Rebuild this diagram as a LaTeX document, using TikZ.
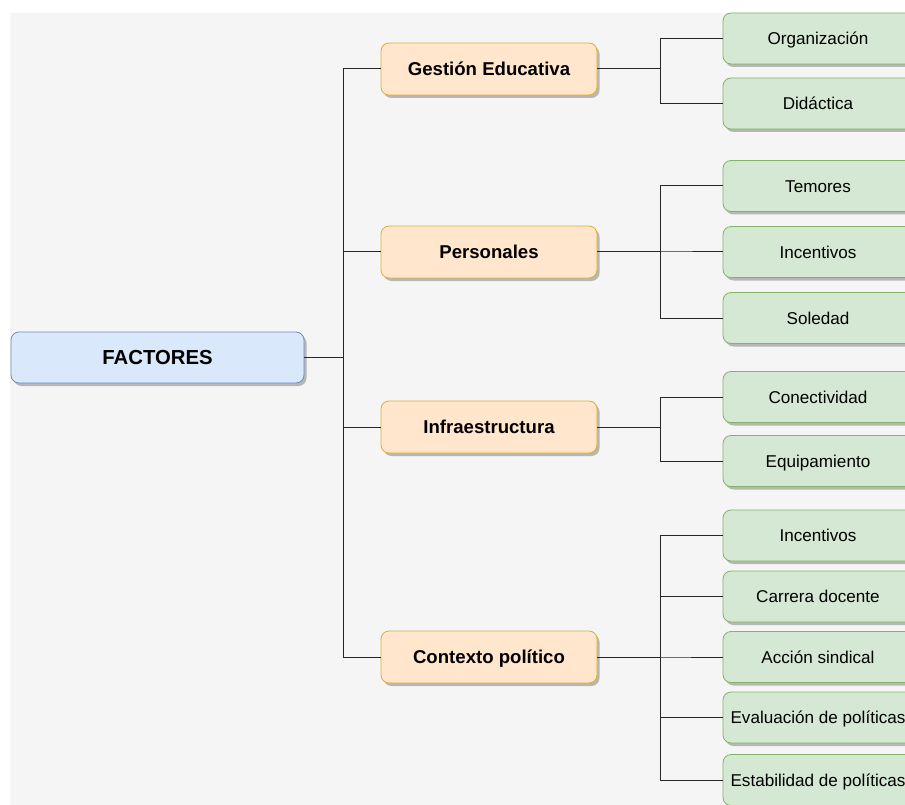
\documentclass[tikz,border=0pt]{standalone}
\usepackage{fontspec}
\setmainfont{Liberation Sans}
\usetikzlibrary{shadows}
\definecolor{bgpanel}{HTML}{F5F5F5}
\definecolor{rootfill}{HTML}{DAE8FC}
\definecolor{rootline}{HTML}{6C8EBF}
\definecolor{midfill}{HTML}{FFE6CC}
\definecolor{midline}{HTML}{D79B00}
\definecolor{leaffill}{HTML}{D5E8D4}
\definecolor{leafline}{HTML}{82B366}
\tikzset{
  boxbase/.style={rounded corners=8pt, line width=0.8pt, inner sep=0pt,
    text depth=0pt,
    drop shadow={shadow xshift=2.5pt, shadow yshift=-3pt, opacity=0.25, fill=black}},
  rootbox/.style={boxbase, draw=rootline, fill=rootfill, minimum width=293pt,
    minimum height=51pt, text height=14.6pt,
    font=\fontsize{20.3}{23}\selectfont\bfseries},
  midbox/.style={boxbase, draw=midline!80, fill=midfill, minimum width=216pt,
    minimum height=52pt, text height=13.4pt,
    font=\fontsize{18.6}{21}\selectfont\bfseries},
  leafbox/.style={boxbase, draw=leafline, fill=leaffill, minimum width=190pt,
    minimum height=51pt, text height=12.3pt,
    font=\fontsize{17.1}{20}\selectfont},
  link/.style={draw=black!85, line width=1pt}
}
\begin{document}
\begin{tikzpicture}[x=1pt, y=-1pt]
  \useasboundingbox (0,0) rectangle (905,805);
  \clip (0,0) rectangle (905,805);
  \fill[white] (0,0) rectangle (905,805);
  \fill[bgpanel] (10,13) rectangle (905,805);

  % root
  \node[rootbox] (root) at (157.5,357.5) {FACTORES};

  % second level
  \node[midbox] (ges) at (489,69) {Gestión Educativa};
  \node[midbox] (per) at (489,252) {Personales};
  \node[midbox] (inf) at (489,427) {Infraestructura};
  \node[midbox] (con) at (489,657) {Contexto político};

  % leaves
  \node[leafbox] (org) at (818,38.5) {Organización};
  \node[leafbox] (did) at (818,103.5) {Didáctica};
  \node[leafbox] (tem) at (818,186) {Temores};
  \node[leafbox] (inc) at (818,252) {Incentivos};
  \node[leafbox] (sol) at (818,318) {Soledad};
  \node[leafbox] (cnv) at (818,397) {Conectividad};
  \node[leafbox] (equ) at (818,461) {Equipamiento};
  \node[leafbox] (inc2) at (818,535.5) {Incentivos};
  \node[leafbox] (car) at (818,596.5) {Carrera docente};
  \node[leafbox] (acc) at (818,657) {Acción sindical};
  \node[leafbox] (eva) at (818,717.5) {Evaluación de políticas};
  \node[leafbox] (est) at (818,780) {Estabilidad de políticas};

  % root to second level
  \foreach \t in {ges,per,inf,con}
    \draw[link] (root.east) -- ++(39,0) |- (\t.west);

  % second level to leaves
  \foreach \t in {org,did}
    \draw[link] (ges.east) -- ++(63,0) |- (\t.west);
  \foreach \t in {tem,inc,sol}
    \draw[link] (per.east) -- ++(63,0) |- (\t.west);
  \foreach \t in {cnv,equ}
    \draw[link] (inf.east) -- ++(63,0) |- (\t.west);
  \foreach \t in {inc2,car,acc,eva,est}
    \draw[link] (con.east) -- ++(63,0) |- (\t.west);
\end{tikzpicture}
\end{document}
